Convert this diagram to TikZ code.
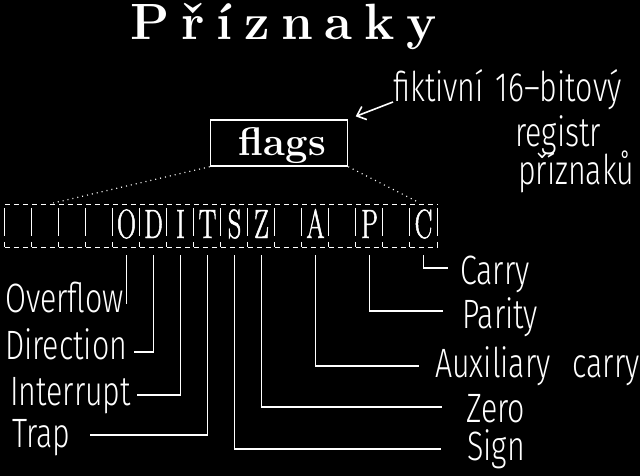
\documentclass[tikz,border=0pt]{standalone}
\usepackage{fontspec}
\newfontfamily\labelfont[FakeStretch=0.74]{Fira Sans Light}
\newfontfamily\regfont[FakeStretch=0.64,FakeBold=1.2]{Latin Modern Roman}
\newfontfamily\titlefont[LetterSpace=23]{Latin Modern Roman}
\usepackage{tikz}
\usetikzlibrary{
  arrows.meta,
  positioning,
  calc
}

\tikzset{
  wire/.style={white, line width=1.3pt},
  regdash/.style={white, line width=1.2pt, dash pattern=on 5.5pt off 3.5pt},
  regside/.style={white, line width=1.2pt, dash pattern=on 0pt off 3pt on 28pt off 6pt on 5pt off 10pt},
  dotline/.style={white, line width=1.2pt, dash pattern=on 1pt off 4pt},
  regcell/.style={white, inner sep=0pt, minimum width=27pt, minimum height=42pt,
    text height=28pt, text depth=4pt, font=\regfont\fontsize{41}{41}\selectfont},
  flagsbox/.style={draw=white, text=white, line width=1.5pt, inner sep=0pt,
    minimum width=137pt, minimum height=46pt, text height=29pt, text depth=3pt,
    font=\bfseries\fontsize{40}{40}\selectfont},
  flaglabel/.style={white, anchor=base west, inner sep=0pt,
    font=\labelfont\fontsize{41}{41}\selectfont}
}

\begin{document}
\begin{tikzpicture}[x=1pt, y=-1pt]
  \useasboundingbox (0,0) rectangle (640,476);
  \fill[black] (0,0) rectangle (640,476);

  % Title
  \node[white, anchor=base west, inner sep=0pt, font=\titlefont\bfseries\fontsize{51}{51}\selectfont]
    (title) at (130,40) {Příznaky};

  % flags box and its note
  \node[flagsbox] (flags) at (279,143) {\hspace{7pt}flags};
  \node[flaglabel] (fikt) at (393,102) {fiktivní\hspace{12pt}16–bitový};
  \node[flaglabel] (registr) at (515,147) {registr};
  \node[flaglabel] (priznaku) at (518,185) {příznaků};
  \draw[wire, line width=1.6pt, -{Straight Barb[length=8pt,width=14pt]}, shorten >=8pt]
    (fikt.base west) -- (flags.north east);

  % 16 bit register
  \foreach \l [count=\i from 0] in {{},{},{},{},O,D,I,T,S,Z,{},A,{},P,{},C} {
    \node[regcell] (c\i) at ({18.5+27*\i},226) {\l};
    \draw[regside] (c\i.north west) -- (c\i.south west);
  }
  \draw[regside] (c15.north east) -- (c15.south east);
  \draw[regdash] (c0.north west) -- (c15.north east);
  \draw[regdash] (c0.south west) -- (c15.south east);

  % dotted lines from flags to register
  \draw[dotline, shorten >=8pt] (flags.south west) -- (c1.north);
  \draw[dotline, shorten >=8pt] (flags.south east) -- (c15.north);

  % flag names
  \node[flaglabel] (ovf) at (5,312) {Overflow};
  \node[flaglabel] (dir) at (5,359) {Direction};
  \node[flaglabel] (int) at (10,405) {Interrupt};
  \node[flaglabel] (trp) at (12,447) {Trap};
  \node[flaglabel] (car) at (460,284) {Carry};
  \node[flaglabel] (par) at (462,328) {Parity};
  \node[flaglabel] (aux) at (435,377) {Auxiliary\hspace{22pt}carry};
  \node[flaglabel] (zro) at (466,422) {Zero};
  \node[flaglabel] (sgn) at (467,460) {Sign};

  % line ends
  \coordinate (ovfend) at (126.5,304);
  \coordinate (dirend) at (134,352);
  \coordinate (intend) at (137,395);
  \coordinate (trpend) at (90,435);
  \coordinate (sgnend) at (441,449);
  \coordinate (zroend) at (442,407);
  \coordinate (auxend) at (419,366);
  \coordinate (parend) at (443,311);
  \coordinate (carend) at (448,268);

  % connectors
  \draw[wire, shorten <=8pt] (c4.south) -- (ovfend);
  \draw[wire, shorten <=8pt] (c5.south) |- (dirend);
  \draw[wire, shorten <=8pt] (c6.south) |- (intend);
  \draw[wire, shorten <=8pt] (c7.south) |- (trpend);
  \draw[wire, shorten <=8pt] (c8.south) |- (sgnend);
  \draw[wire, shorten <=8pt] (c9.south) |- (zroend);
  \draw[wire, shorten <=8pt] (c11.south) |- (auxend);
  \draw[wire, shorten <=8pt] (c13.south) |- (parend);
  \draw[wire, shorten <=8pt] (c15.south) |- (carend);
\end{tikzpicture}
\end{document}
